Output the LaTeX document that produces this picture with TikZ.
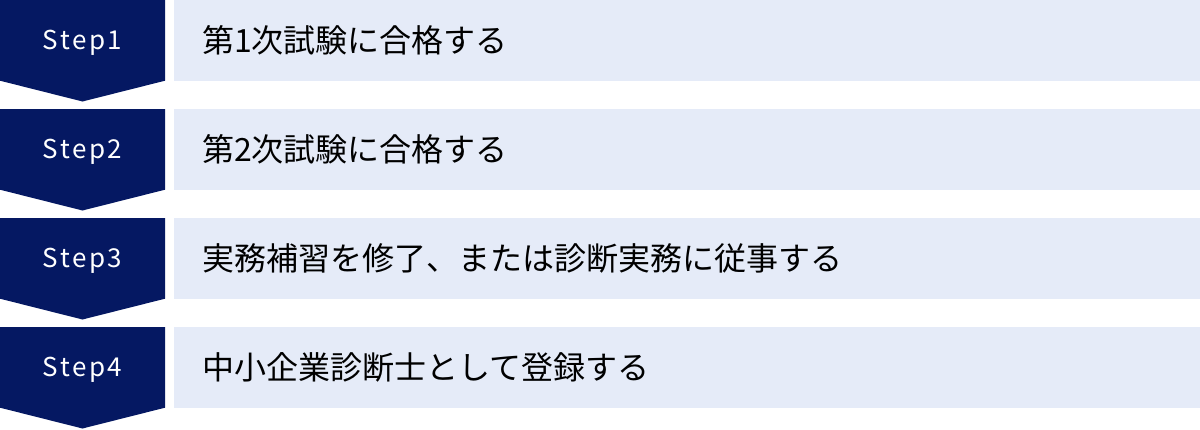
\documentclass[tikz,border=0pt]{standalone}
\usepackage{fontspec}
\setmainfont{Noto Sans CJK JP}
\newfontfamily\stepfont[LetterSpace=10]{Noto Sans CJK JP}
\definecolor{navy}{RGB}{5,24,98}
\definecolor{paleblue}{RGB}{229,235,248}
\begin{document}
\begin{tikzpicture}[x=1pt,y=-1pt,
	steplabel/.style={text=white, font=\stepfont\fontsize{26}{30}\selectfont},
	taskbox/.style={rectangle, fill=paleblue, anchor=north west, minimum width=1026pt, minimum height=80.7pt, inner xsep=28pt, text width=970pt, align=left, font=\fontsize{32}{36}\selectfont}]
\useasboundingbox (0,0) rectangle (1200,429);
\foreach \n/\y/\t in {
	1/0/第1次試験に合格する%
	,2/109/第2次試験に合格する%
	,3/218/実務補習を修了、または診断実務に従事する%
	,4/327/中小企業診断士として登録する%
}{
	\fill[navy] (0,\y) -- (165,\y) -- (165,\y+80.7) -- (82.5,\y+101.5) -- (0,\y+80.7) -- cycle;
	\node[steplabel](s\n) at(82.5,\y+42.5) {Step\n};
	\node[taskbox](t\n) at(174,\y) {\raisebox{-3pt}{\t}};
}
\end{tikzpicture}
\end{document}
